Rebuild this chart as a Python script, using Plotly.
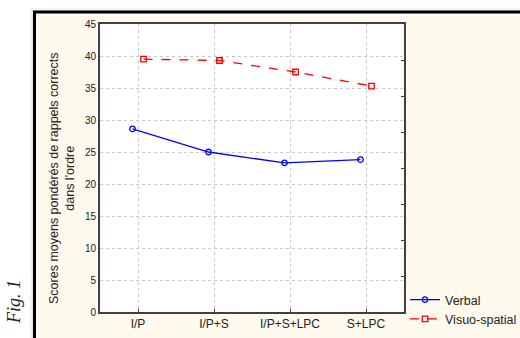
import plotly.graph_objects as go

categories = ["I/P", "I/P+S", "I/P+S+LPC", "S+LPC"]
verbal = [28.6, 25.0, 23.3, 23.8]
visuo = [39.5, 39.3, 37.5, 35.3]
y_ticks = [0, 5, 10, 15, 20, 25, 30, 35, 40, 45]

W, H = 520, 338
L, R, T, B = 100, 116, 24, 26
pw, ph = W - L - R, H - T - B

def px(x):
    return (x - L) / pw

def py(y):
    return (H - B - y) / ph

fig = go.Figure()
fig.add_trace(go.Scatter(
    x=categories, y=verbal, name="Verbal", mode="lines+markers",
    line=dict(color="#0000FF", width=1.3),
    marker=dict(symbol="circle-open", size=5.5, color="#0000FF", line=dict(width=1.3)),
))
fig.add_trace(go.Scatter(
    x=categories, y=visuo, name="Visuo-spatial", mode="lines+markers",
    line=dict(color="#FF0000", width=1.3, dash="dash"),
    marker=dict(symbol="square-open", size=5.5, color="#FF0000", line=dict(width=1.3)),
))
# secondary axis only for the right-hand tick marks
fig.add_trace(go.Scatter(x=[categories[0]], y=[0], yaxis="y2", showlegend=False,
                         mode="markers", marker=dict(opacity=0), hoverinfo="skip"))

fig.update_layout(
    width=W, height=H,
    margin=dict(l=L, r=R, t=T, b=B, autoexpand=False),
    paper_bgcolor="white",
    plot_bgcolor="white",
    scattermode="group",
    scattergap=0.71,
    font=dict(family="Liberation Sans, Arial", color="#222222"),
    xaxis=dict(
        type="category", range=[-0.5, 3.5],
        showgrid=True, gridcolor="#C8C8C8", griddash="dot", gridwidth=1,
        showline=True, linecolor="#404040", linewidth=2, mirror=True,
        ticks="inside", ticklen=3, tickcolor="#404040",
        tickfont=dict(size=12, color="#222222"), zeroline=False,
    ),
    yaxis=dict(
        range=[0, 45], tickvals=y_ticks,
        showgrid=True, gridcolor="#C8C8C8", griddash="dot", gridwidth=1,
        showline=True, linecolor="#404040", linewidth=2, mirror=True,
        ticks="", tickfont=dict(size=10, color="#222222"), zeroline=False,
    ),
    yaxis2=dict(
        overlaying="y", side="right", range=[0, 8], dtick=1,
        showgrid=False, showticklabels=False, ticks="inside", ticklen=3,
        tickcolor="#404040", showline=False, zeroline=False,
    ),
    legend=dict(
        x=px(405), y=py(285), xanchor="left", yanchor="top",
        bgcolor="rgba(0,0,0,0)", font=dict(size=12.5, color="#222222"),
        itemwidth=30, tracegroupgap=0,
    ),
    showlegend=True,
)

# panel with shadow and black border
fig.add_shape(type="rect", xref="paper", yref="paper", layer="below",
              x0=px(30), x1=px(540), y0=py(360), y1=py(8),
              fillcolor="#F2F2F2", line=dict(width=0))
fig.add_shape(type="rect", xref="paper", yref="paper", layer="below",
              x0=px(32), x1=px(540), y0=py(360), y1=py(10),
              fillcolor="#E4E4E4", line=dict(width=0))
fig.add_shape(type="rect", xref="paper", yref="paper", layer="below",
              x0=px(34.5), x1=px(540), y0=py(360), y1=py(12),
              fillcolor="#FFF9EE", line=dict(color="black", width=3))
# white plotting area
fig.add_shape(type="rect", xref="paper", yref="paper", layer="below",
              x0=0, x1=1, y0=0, y1=1, fillcolor="white", line=dict(width=0))

fig.add_annotation(
    text="Scores moyens pondérés de rappels corrects<br>dans l'ordre",
    xref="paper", yref="paper", x=px(62), y=py(178),
    xanchor="center", yanchor="middle", textangle=-90, showarrow=False,
    font=dict(size=12.5, color="#222222"),
)
fig.add_annotation(
    text="<i>Fig. 1</i>", xref="paper", yref="paper", x=px(14), y=py(302),
    xanchor="center", yanchor="middle", textangle=-90, showarrow=False,
    font=dict(family="Liberation Serif, Times New Roman", size=18, color="#222222"),
)

fig.write_html("out.html")
